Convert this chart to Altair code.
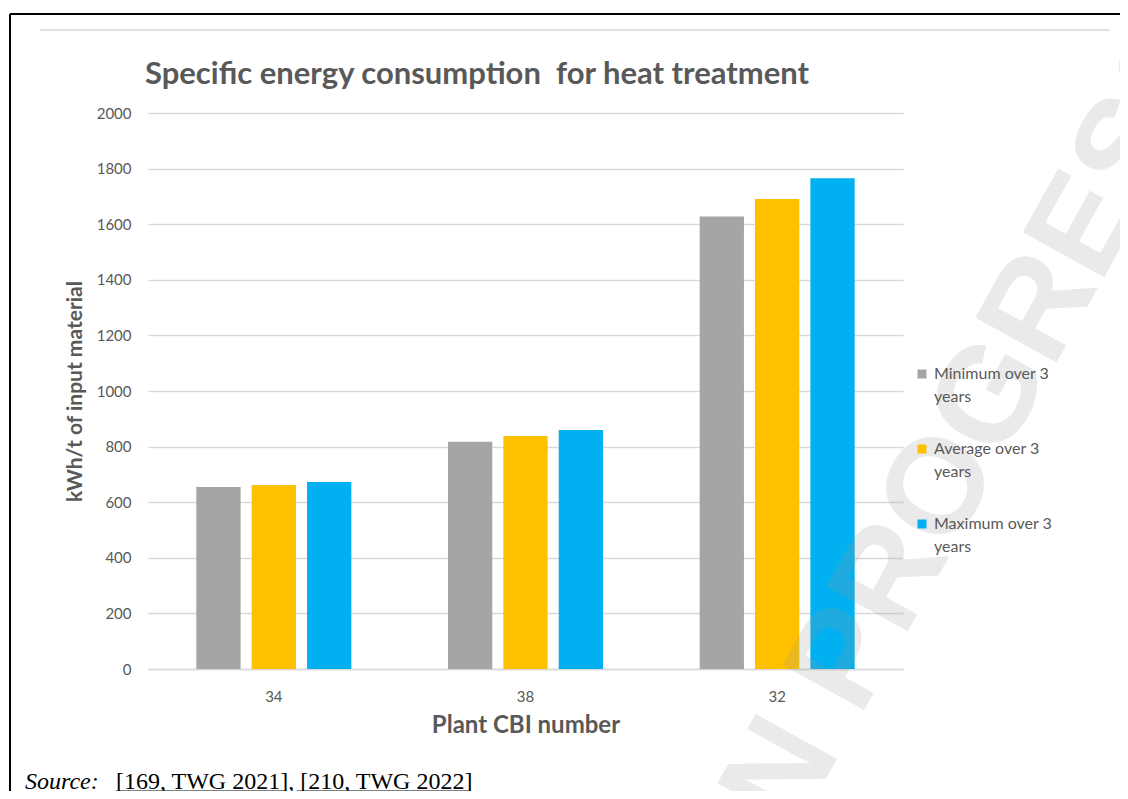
import altair as alt
import pandas as pd

plants = ["34", "38", "32"]
series = ["Minimum over 3 years", "Average over 3 years", "Maximum over 3 years"]
minimum = [655, 817, 1628]
average = [662, 838, 1691]
maximum = [673, 860, 1765]
colors = ["#A5A5A5", "#FFC000", "#00B0F0"]
y_ticks = [0, 200, 400, 600, 800, 1000, 1200, 1400, 1600, 1800, 2000]

rows = []
for i, p in enumerate(plants):
    for s, vals in zip(series, [minimum, average, maximum]):
        rows.append({"plant": p, "series": s, "value": vals[i]})
df = pd.DataFrame(rows)

FONT = "Lato"
GREY = "#595959"
W, H = 755, 556
DY = 5

bars = alt.Chart(df).mark_bar().encode(
    x=alt.X("plant:N", sort=plants,
            scale=alt.Scale(paddingInner=0.34, paddingOuter=0.17),
            axis=alt.Axis(title="Plant CBI number", labelAngle=0, ticks=False,
                          domain=True, domainColor="#D9D9D9", domainWidth=1.5,
                          labelPadding=20 - DY, labelFontSize=15, labelColor=GREY,
                          titleFontSize=24, titleFontWeight="bold", titleColor=GREY,
                          titlePadding=9)),
    xOffset=alt.XOffset("series:N", sort=series,
                        scale=alt.Scale(paddingInner=0.2, paddingOuter=0.1)),
    y=alt.Y("value:Q", scale=alt.Scale(domain=[0, 2000]),
            axis=alt.Axis(title="kWh/t of input material", values=y_ticks, format="d",
                          domain=False, ticks=False, labelPadding=17, labelFontSize=15,
                          labelOffset=-DY,
                          labelColor=GREY, gridColor="#D9D9D9", gridWidth=1.5,
                          titleFontSize=21, titleFontWeight="bold", titleColor=GREY,
                          titlePadding=11)),
    color=alt.Color("series:N", sort=series,
                    scale=alt.Scale(domain=series, range=colors),
                    legend=alt.Legend(title=None, orient="none", legendX=766, legendY=253,
                                      symbolType="square", symbolSize=81, symbolStrokeWidth=0,
                                      labelFontSize=16, labelColor=GREY, labelFont=FONT,
                                      rowPadding=36, labelLimit=200, labelOffset=4,
                                      labelBaseline="alphabetic",
                                      labelExpr="datum.label == 'Minimum over 3 years' ? ['Minimum over 3', 'years'] : datum.label == 'Average over 3 years' ? ['Average over 3', 'years'] : ['Maximum over 3', 'years']")),
)

one = pd.DataFrame({"a": [0]})
frame_top = alt.Chart(one).mark_rule(color="black", strokeWidth=2).encode(
    x=alt.value(-138), x2=alt.value(990), y=alt.value(-99))
frame_left = alt.Chart(one).mark_rule(color="black", strokeWidth=2).encode(
    x=alt.value(-138), y=alt.value(-99), y2=alt.value(700))
grey_line = alt.Chart(one).mark_rule(color="#D9D9D9", strokeWidth=1.5).encode(
    x=alt.value(-108), x2=alt.value(962), y=alt.value(-83))

title = alt.Chart(pd.DataFrame({"t": ["Specific energy consumption\u00a0 for heat treatment"]})).mark_text(
    font=FONT, fontSize=31, fontWeight="bold", align="left", baseline="alphabetic", color=GREY
).encode(text="t:N", x=alt.value(-3), y=alt.value(-29))

src1 = alt.Chart(pd.DataFrame({"t": ["Source:"]})).mark_text(
    font="Liberation Serif", fontSize=24, fontStyle="italic", align="left",
    baseline="alphabetic", color="black"
).encode(text="t:N", x=alt.value(-123), y=alt.value(676))
src2 = alt.Chart(pd.DataFrame({"t": ["[169, TWG 2021], [210, TWG 2022]"]})).mark_text(
    font="Liberation Serif", fontSize=24, align="left", baseline="alphabetic", color="black"
).encode(text="t:N", x=alt.value(-32), y=alt.value(676))
ul1 = alt.Chart(one).mark_rule(color="black", strokeWidth=1.2).encode(
    x=alt.value(-32), x2=alt.value(139), y=alt.value(678))
ul2 = alt.Chart(one).mark_rule(color="black", strokeWidth=1.2).encode(
    x=alt.value(149), x2=alt.value(323), y=alt.value(678))

water = alt.Chart(pd.DataFrame({"t": ["IN PROGRESS"]})).mark_text(
    font="Liberation Sans", fontSize=135, fontWeight="bold", angle=299, color="#999999",
    opacity=0.2, align="left", baseline="alphabetic"
).encode(text="t:N", x=alt.value(628), y=alt.value(756))

chart = alt.layer(bars, water, frame_top, frame_left, grey_line, title, src1, src2, ul1, ul2).properties(
    width=W, height=H,
    padding={"left": 140, "top": 105, "right": 217, "bottom": 122},
    autosize=alt.AutoSizeParams(type="none"),
).configure(
    style={"guide-label": {"lineHeight": 23, "dy": DY}},
).configure_view(stroke=None).configure_axis(labelFont=FONT, titleFont=FONT)

chart.save("out.html", embed_options={"renderer": "svg", "actions": False})
